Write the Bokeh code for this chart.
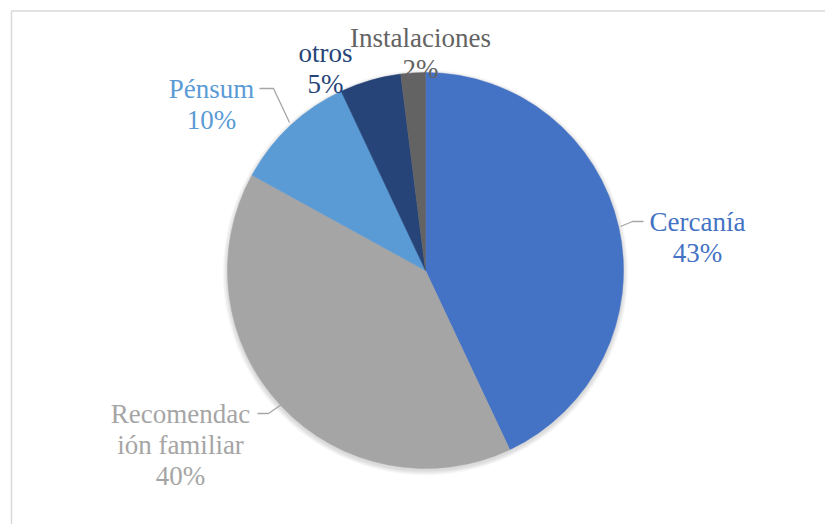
import math
from bokeh.plotting import figure
from bokeh.models import Range1d
from bokeh.core.properties import value
from bokeh.embed import file_html
from bokeh.resources import INLINE

# ---- data ----
categories = ["Cercanía", "Recomendación familiar", "Pénsum", "otros", "Instalaciones"]
values = [43, 40, 10, 5, 2]
colors = ["#4472C4", "#A5A5A5", "#5B9BD5", "#264478", "#636363"]
label_lines = [["Cercanía"], ["Recomendac", "ión familiar"], ["Pénsum"], ["otros"], ["Instalaciones"]]

# ---- layout (page pixel coords, data y = 524 - py) ----
H = 524
def Y(py):
    return H - py

cx, cy, R = 425, Y(270), 198
label_pos = [(697, 221), (180, 413), (211, 88), (325, 52), (420, 37)]
line_gap = 31
leaders = [
    [(620, 226), (632, 221), (643, 221)],
    [(257, 413), (268, 413), (281, 404)],
    [(259, 88), (273, 88), (289, 122)],
]
FONT = value("Liberation Serif")
FS = "27px"

p = figure(width=825, height=524, output_backend="svg", toolbar_location=None,
           x_range=Range1d(0, 825), y_range=Range1d(0, 524), min_border=0)
p.axis.visible = False
p.grid.visible = False
p.outline_line_color = None
p.background_fill_color = "white"
p.border_fill_color = "white"

# chart border
p.line([11, 11, 830], [Y(530), Y(10.5), Y(10.5)], line_color="#D9D9D9", line_width=1.5)

# soft shadow
for k in range(1, 7):
    p.circle(x=[cx], y=[cy - 2], radius=R + k * 0.8, fill_color="black",
             fill_alpha=0.025, line_color=None)

# wedges
total = sum(values)
cum = 0.0
for v, c in zip(values, colors):
    start = math.pi / 2 - 2 * math.pi * cum / total
    cum += v
    end = math.pi / 2 - 2 * math.pi * cum / total
    p.wedge(x=cx, y=cy, radius=R, start_angle=start, end_angle=end,
            direction="clock", fill_color=c, line_color=c, line_width=0.5)

# leader lines
for pts in leaders:
    p.line([q[0] for q in pts], [Y(q[1]) for q in pts], line_color="#A6A6A6", line_width=1.3)

# labels
for lines, v, c, (lx, ly) in zip(label_lines, values, colors, label_pos):
    all_lines = lines + [f"{v}%"]
    for i, t in enumerate(all_lines):
        p.text(x=[lx], y=[Y(ly + i * line_gap)], text=[t], text_align="center",
               text_baseline="alphabetic", text_color=c, text_font=FONT,
               text_font_size=FS)

open("out.html", "w").write(file_html(p, INLINE))
